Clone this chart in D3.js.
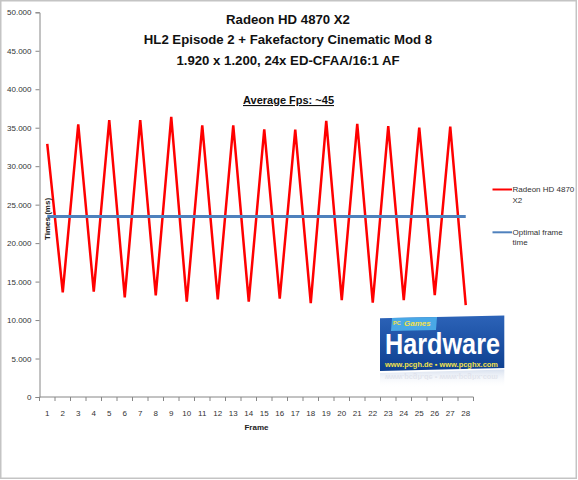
<!DOCTYPE html>
<html><head><meta charset="utf-8">
<script src="https://cdn.jsdelivr.net/npm/d3@7"></script>
<style>body{margin:0;background:#fff}svg{display:block}</style>
</head><body>
<svg id="c" width="578" height="480"></svg>
<script>
// ---- data ----
const frames = d3.range(1, 29);
const radeonTimes = [32900,13600,35450,13700,36000,12950,36000,13200,36400,12400,35300,12700,35300,12400,34800,12800,34750,12200,35900,12600,35500,12250,35200,12600,35000,13250,35150,11950];
const optimalTimes = frames.map(() => 23450);
const yTicks = [0,5000,10000,15000,20000,25000,30000,35000,40000,45000,50000];
const titleLines = ["Radeon HD 4870 X2", "HL2 Episode 2 + Fakefactory Cinematic Mod 8", "1.920 x 1.200, 24x ED-CFAA/16:1 AF"];
const subtitle = "Average Fps: ~45";
const seriesNames = [["Radeon HD 4870", "X2"], ["Optimal frame", "time"]];
const seriesColors = ["#ff0000", "#4f81bd"];

const svg = d3.select("#c");
const font = "'Liberation Sans', Arial, sans-serif";

// chart border
svg.append("rect").attr("x",0.75).attr("y",0.75).attr("width",575.5).attr("height",477.5)
  .attr("fill","#fff").attr("stroke","#c4c4c4").attr("stroke-width",1.5);

const x = d3.scalePoint().domain(frames).range([39.5, 473.5]).padding(0.5);
const y = d3.scaleLinear().domain([0, 50000]).range([397, 12.3]);
const loc = d3.formatLocale({decimal: ",", thousands: ".", grouping: [3], currency: ["", ""]});
const fmt = loc.format(",d");

// y axis
const yAxis = svg.append("g").attr("transform","translate(39.5,0)")
  .call(d3.axisLeft(y).tickValues(yTicks).tickFormat(fmt).tickSize(4).tickPadding(4));
yAxis.select(".domain").attr("stroke","#868686");
yAxis.selectAll(".tick line").attr("stroke","#868686");
yAxis.selectAll("text").attr("font-family",font).attr("font-size",8).attr("fill","#333");

// x axis
const xg = svg.append("g").attr("transform","translate(0,397)");
xg.append("line").attr("x1",39.5).attr("x2",473.5).attr("stroke","#868686");
const step = x.step();
xg.selectAll("line.t").data(d3.range(frames.length + 1)).join("line").attr("class","t")
  .attr("x1", i => 39.5 + i*step).attr("x2", i => 39.5 + i*step)
  .attr("y1",0).attr("y2",4).attr("stroke","#868686");
xg.selectAll("text").data(frames).join("text")
  .attr("x", d => x(d)).attr("y", 18.5).attr("text-anchor","middle")
  .attr("font-family",font).attr("font-size",8).attr("fill","#333").text(d => d);

svg.append("text").attr("x",256.5).attr("y",430).attr("text-anchor","middle")
  .attr("font-family",font).attr("font-size",8).attr("font-weight","bold").attr("fill","#222").text("Frame");

// lines
const line = d3.line().x((d,i) => x(frames[i])).y(d => y(d));
svg.append("path").datum(radeonTimes).attr("d",line).attr("fill","none")
  .attr("stroke",seriesColors[0]).attr("stroke-width",2.5).attr("stroke-linejoin","miter");
svg.append("path").datum(optimalTimes).attr("d",line).attr("fill","none")
  .attr("stroke",seriesColors[1]).attr("stroke-width",3);

// y axis title (sits inside plot like reference)
svg.append("text").attr("transform","translate(50,219) rotate(-90)").attr("text-anchor","middle")
  .attr("font-family",font).attr("font-size",8).attr("font-weight","bold").attr("fill","#222").text("Times (ms)");

// titles
const tg = svg.append("g");
titleLines.forEach((t,i) => {
  tg.append("text").attr("x",288).attr("y",24 + i*20.3).attr("text-anchor","middle")
    .attr("font-family",font).attr("font-size",13.2).attr("font-weight","bold").attr("fill","#111").text(t);
});
svg.append("text").attr("x",288.5).attr("y",104).attr("text-anchor","middle")
  .attr("font-family",font).attr("font-size",11).attr("font-weight","bold").attr("fill","#111")
  .attr("text-decoration","underline").text(subtitle);

// legend
const lg = svg.append("g");
const legY = [189.5, 232.3];
seriesNames.forEach((nm,i) => {
  lg.append("line").attr("x1",492.5).attr("x2",512).attr("y1",legY[i]).attr("y2",legY[i])
    .attr("stroke",seriesColors[i]).attr("stroke-width",2);
  nm.forEach((s,j) => {
    lg.append("text").attr("x",512.5).attr("y",legY[i] + 2.7 + j*10.3)
      .attr("font-family",font).attr("font-size",8).attr("fill","#333").text(s);
  });
});

// logo (PC Games Hardware watermark)
const defs = svg.append("defs");
const gr = defs.append("linearGradient").attr("id","lgBlue").attr("x1",0).attr("y1",0).attr("x2",0).attr("y2",1);
gr.append("stop").attr("offset","0").attr("stop-color","#2c63b8");
gr.append("stop").attr("offset","1").attr("stop-color","#0d3f8f");
const rf = defs.append("linearGradient").attr("id","lgRef").attr("x1",0).attr("y1",0).attr("x2",0).attr("y2",1);
rf.append("stop").attr("offset","0").attr("stop-color","#c8d4e8").attr("stop-opacity",0.7);
rf.append("stop").attr("offset","1").attr("stop-color","#fff").attr("stop-opacity",0);
const logo = svg.append("g");
logo.append("path").attr("d","M380,318.3 L504.3,315.5 L504.3,368 L380,371 Z").attr("fill","url(#lgBlue)");
logo.append("path").attr("d","M380,373 L504.3,369.5 L504.3,386 L380,388 Z").attr("fill","url(#lgRef)");
logo.append("path").attr("d","M392,318 L437,317 L436,330 L391,331 Z").attr("fill","#49a8e6");
logo.append("text").attr("x",393).attr("y",325).attr("font-family",font).attr("font-size",5.5)
  .attr("font-weight","bold").attr("fill","#f2e14c").text("PC");
logo.append("text").attr("x",404).attr("y",325.7).attr("font-family",font).attr("font-size",8)
  .attr("font-style","italic").attr("font-weight","bold").attr("fill","#f2e14c").text("Games");
logo.append("text").attr("x",385).attr("y",354).attr("font-family","'Liberation Sans Narrow', 'Liberation Sans', sans-serif")
  .attr("font-size",29.3).attr("font-weight","bold").attr("fill","#fff")
  .attr("textLength",115).attr("lengthAdjust","spacingAndGlyphs").text("Hardware");
logo.append("text").attr("x",385).attr("y",366.6).attr("font-family",font).attr("font-size",7)
  .attr("font-weight","bold").attr("fill","#f2e14c")
  .attr("textLength",113).attr("lengthAdjust","spacingAndGlyphs").text("www.pcgh.de \u25AA www.pcghx.com");
logo.append("text").attr("transform","translate(385,374.5) scale(1,-1)").attr("font-family",font).attr("font-size",6.5)
  .attr("font-weight","bold").attr("fill","#d8dbe6").attr("opacity",0.6)
  .attr("textLength",113).attr("lengthAdjust","spacingAndGlyphs").text("www.pcgh.de \u25AA www.pcghx.com");
</script>
</body></html>
